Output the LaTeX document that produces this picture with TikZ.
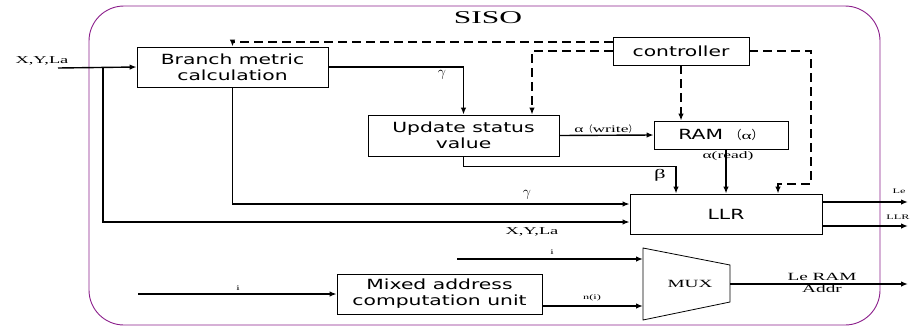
\documentclass[tikz,border=0pt]{standalone}
\usepackage{fontspec}
\usepackage{tikz}
\usetikzlibrary{arrows.meta,calc,positioning}
\newfontfamily\boxfont[FakeStretch=1.45]{DejaVu Sans}
\newfontfamily\labfont[FakeStretch=1.75]{Liberation Serif}
\newfontfamily\cjkfont{Noto Sans CJK SC}
\definecolor{sisopurple}{RGB}{139,30,139}

\begin{document}
\begin{tikzpicture}[
      x=1pt,y=-1pt,
      block/.style={rectangle,draw,line width=0.8pt,align=center,inner sep=0pt,
        font=\boxfont\fontsize{14}{16}\selectfont},
      lab/.style={inner sep=1pt,font=\labfont\fontsize{10.5}{12}\selectfont},
      small/.style={inner sep=1pt,font=\labfont\fontsize{7}{8}\selectfont},
      greek/.style={inner sep=1pt,font=\fontsize{14}{16}\selectfont},
      sig/.style={line width=1.4pt},
      ctl/.style={line width=1.4pt,dash pattern=on 9pt off 5pt},
      >={Latex[length=7pt,width=5.5pt]}
    ]
    \useasboundingbox (0,0) rectangle (912,327);

    \node[draw=sisopurple,line width=0.9pt,rounded corners=35pt,
      minimum width=791pt,minimum height=319pt] (siso) at (484.5,165.5) {};
    \node[font=\labfont\fontsize{18}{20}\selectfont] (title) at (488,18) {SISO};

    \node[block,minimum width=191pt,minimum height=40pt] (bmc) at (232.5,67) {Branch metric\\calculation};
    \node[block,minimum width=191pt,minimum height=41pt] (upd) at (463.5,135.5) {Update status\\value};
    \node[block,minimum width=136pt,minimum height=28pt] (ctrl) at (681,51) {controller};
    \node[block,minimum width=134pt,minimum height=28pt] (ram) at (721,135)
      {RAM {\cjkfont\fontsize{12}{14}\selectfont （}{\labfont\fontsize{11}{12}\selectfont α}{\cjkfont\fontsize{12}{14}\selectfont ）}};
    \node[block,minimum width=192pt,minimum height=40pt] (llr) at (726,214) {LLR};
    \node[block,minimum width=205pt,minimum height=40pt] (mac) at (439.5,294) {Mixed address\\computation unit};

    % multiplexer
    \draw[line width=0.8pt] (643,248) -- (730,265) -- (730,302) -- (643,320) -- cycle;
    \node[lab,font=\labfont\fontsize{11}{12}\selectfont] (mux) at (690,284) {MUX};
    \coordinate (muxi) at (643,259);
    \coordinate (muxn) at (643,306);
    \coordinate (muxo) at (730,284);

    % free ends
    \coordinate (xin) at (58,68);
    \coordinate (tap) at (103,68);
    \coordinate (iin) at (457,259);
    \coordinate (iadr) at (138,294);
    \coordinate (leout) at (908,202);
    \coordinate (llrout) at (908,226);
    \coordinate (addrout) at (908,284);
    \coordinate (cr) at (811,184);

    % data path
    \draw[sig,->] (xin) -- (bmc.west);
    \draw[sig,->] (tap) |- ([yshift=-8pt]llr.west);
    \draw[sig,->] (bmc.south) |- ([yshift=10pt]llr.west);
    \draw[sig,->] (bmc.east) -| (upd.north);
    \draw[sig,->] (upd.east) -- (ram.west);
    \draw[sig,->] (ram.south -| llr.north) -- (llr.north);
    \draw[sig,->] (upd.south) -- ++(0,10) -| ([xshift=-50pt]llr.north);
    \draw[sig,->] ([yshift=12pt]llr.east) -- (leout);
    \draw[sig,->] ([yshift=-12pt]llr.east) -- (llrout);
    \draw[sig,->] (iin) -- (muxi);
    \draw[sig,->] (iadr) -- (mac.west);
    \draw[sig,->] ([yshift=-12pt]mac.east) -- (muxn);
    \draw[sig,->] (muxo) -- (addrout);

    % control
    \draw[ctl,->] ([yshift=9pt]ctrl.west) -| (bmc.north);
    \draw[ctl,->] (ctrl.west) -| ([xshift=68.5pt]upd.north);
    \draw[ctl,->] (ctrl.south) -- (ctrl.south |- ram.north);
    \draw[ctl,->] (ctrl.east) -| (cr) -| ([xshift=52pt]llr.north);

    % labels
    \node[lab] (xyl) at (42,61) {X,Y,La};
    \node[lab] (xyl2) at (532,232) {X,Y,La};
    \node[greek] (g1) at (442,75) {$\gamma$};
    \node[greek] (g2) at (527,195) {$\gamma$};
    \node[lab,font=\labfont\fontsize{13}{14}\selectfont] (beta) at (660,175) {β};
    \node[lab,font=\labfont\fontsize{10}{12}\selectfont] (aw) at (606,129)
      {α{\cjkfont\fontsize{9}{10}\selectfont （}write{\cjkfont\fontsize{9}{10}\selectfont ）}};
    \node[lab,font=\labfont\fontsize{10}{12}\selectfont] (ar) at (728,156) {α(read)};
    \node[small] (i1) at (238,288) {i};
    \node[small] (i2) at (552,252) {i};
    \node[small] (ni) at (592,298) {n(i)};
    \node[small] (le) at (899,191) {Le};
    \node[small] (llrl) at (898,217) {LLR};
    \node[lab,align=center,font=\labfont\fontsize{11}{11.5}\selectfont] (addr) at (822,283) {Le RAM\\Addr};
  \end{tikzpicture}
\end{document}
